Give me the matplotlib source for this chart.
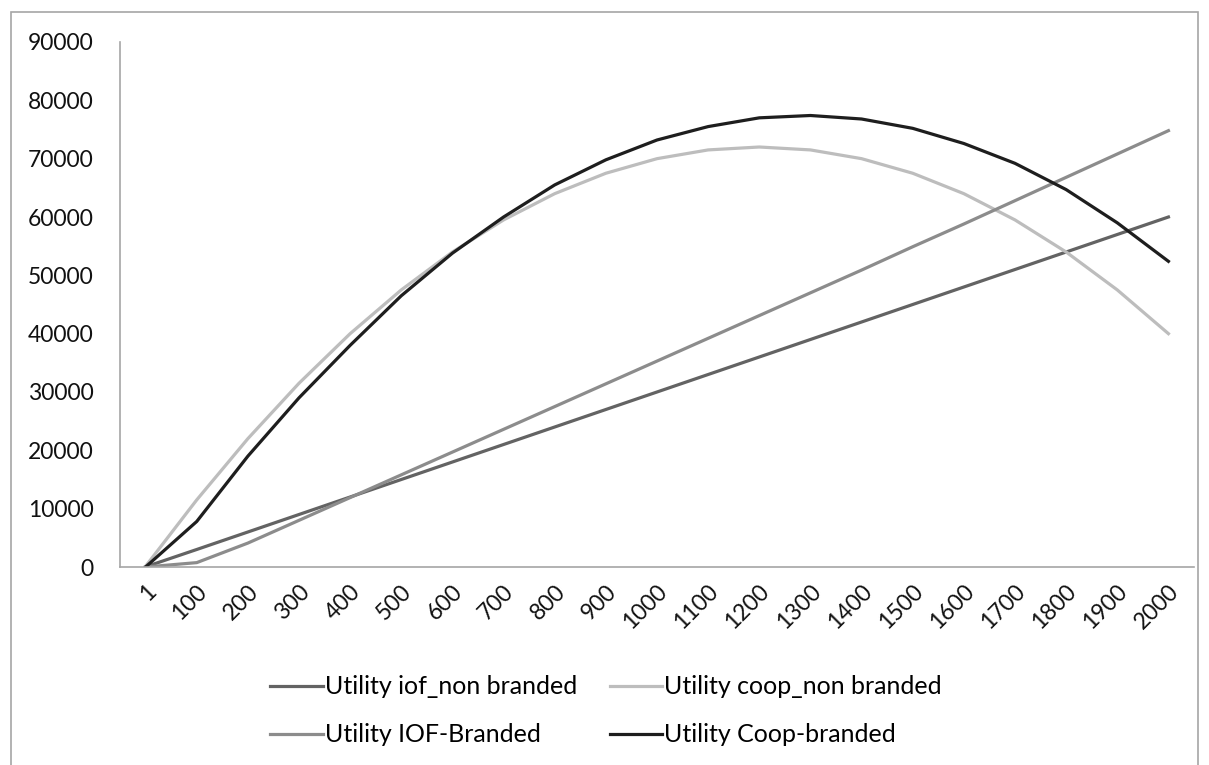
import matplotlib
matplotlib.use("Agg")
import matplotlib.pyplot as plt
from matplotlib.patches import Rectangle
from matplotlib.transforms import offset_copy

plt.rcParams['font.family'] = ['Lato', 'DejaVu Sans']

# categories on the x axis
quantity = ['1', '100', '200', '300', '400', '500', '600', '700', '800', '900', '1000',
            '1100', '1200', '1300', '1400', '1500', '1600', '1700', '1800', '1900', '2000']

# values
iof_non_branded = [30, 3000, 6000, 9000, 12000, 15000, 18000, 21000, 24000, 27000, 30000,
                   33000, 36000, 39000, 42000, 45000, 48000, 51000, 54000, 57000, 60000]
coop_non_branded = [120, 11500, 22000, 31500, 40000, 47500, 54000, 59500, 64000, 67500, 70000,
                    71500, 72000, 71500, 70000, 67500, 64000, 59500, 54000, 47500, 40000]
iof_branded = [0, 750, 4100, 8000, 11900, 15800, 19700, 23600, 27500, 31400, 35300,
               39200, 43100, 47000, 50900, 54900, 58800, 62800, 66800, 70800, 74800]
coop_branded = [0, 7800, 19000, 29000, 38000, 46500, 53800, 60000, 65500, 69800, 73200,
                75500, 77000, 77400, 76800, 75200, 72600, 69200, 64700, 59000, 52400]

fig = plt.figure(figsize=(12.09, 7.65), dpi=100)
ax = fig.add_axes([120 / 1209, 1 - 567 / 765, (1194 - 120) / 1209, (567 - 42) / 765])

x = range(len(quantity))
lw = 2.3
l1, = ax.plot(x, iof_non_branded, color='#636363', lw=lw, label='Utility iof_non branded')
l2, = ax.plot(x, coop_non_branded, color='#bdbdbd', lw=lw, label='Utility coop_non branded')
l3, = ax.plot(x, iof_branded, color='#8c8c8c', lw=lw, label='Utility IOF-Branded')
l4, = ax.plot(x, coop_branded, color='#1e1e1e', lw=lw, label='Utility Coop-branded')

ax.set_xlim(-0.5, len(quantity) - 0.5)
ax.set_ylim(0, 90000)
ax.set_yticks(range(0, 90001, 10000))
ax.set_yticklabels([str(v) for v in range(0, 90001, 10000)], fontsize=16.5, color='#111111')
ax.tick_params(axis='y', length=0, pad=19)
ax.tick_params(axis='x', length=0)

ax.set_xticks(list(x))
ax.set_xticklabels([])
lab_tr = offset_copy(ax.get_xaxis_transform(), fig=fig, x=7, y=-21, units='dots')
for i, q in enumerate(quantity):
    ax.text(i, 0, q, transform=lab_tr, rotation=45, rotation_mode='anchor',
            ha='right', va='center', fontsize=16.5, color='#111111')

for s in ['top', 'right']:
    ax.spines[s].set_visible(False)
for s in ['left', 'bottom']:
    ax.spines[s].set_color('#a6a6a6')
    ax.spines[s].set_linewidth(1.2)

fig.legend(handles=[l1, l3, l2, l4], ncol=2, loc='center',
           bbox_to_anchor=(606 / 1209, 1 - 711 / 765), frameon=False,
           fontsize=18, handlelength=2.1, handletextpad=0.08,
           columnspacing=1.3, labelspacing=1.0)

fig.patches.append(Rectangle((11 / 1209, -0.05), (1198 - 11) / 1209, 1.05 - 12 / 765,
                             transform=fig.transFigure, fill=False,
                             edgecolor='#a6a6a6', lw=1.2))

fig.savefig('out.png', dpi=100, facecolor='white')
